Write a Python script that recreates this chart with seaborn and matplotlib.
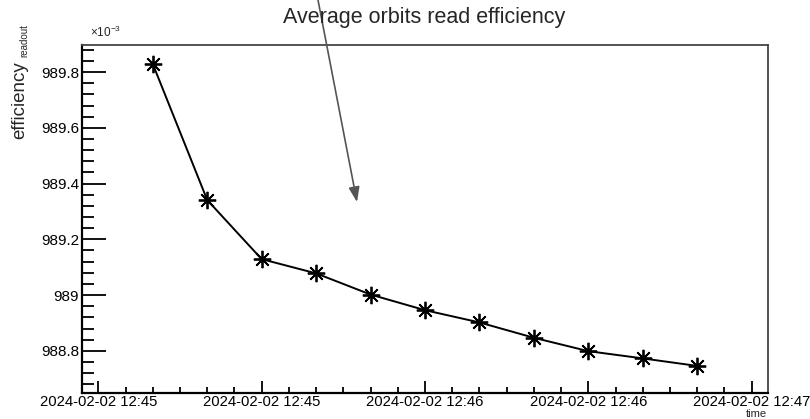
import matplotlib
matplotlib.use("Agg")
import matplotlib.pyplot as plt
import matplotlib.dates as mdates
from matplotlib.ticker import MultipleLocator, FuncFormatter
from matplotlib.patches import FancyArrowPatch
import seaborn as sns
import pandas as pd

# ---- data ----
times = ["2024-02-02 12:45:10", "2024-02-02 12:45:20", "2024-02-02 12:45:30",
         "2024-02-02 12:45:40", "2024-02-02 12:45:50", "2024-02-02 12:46:00",
         "2024-02-02 12:46:10", "2024-02-02 12:46:20", "2024-02-02 12:46:30",
         "2024-02-02 12:46:40", "2024-02-02 12:46:50"]
# efficiency in units of 1e-3
efficiency = [989.829, 989.341, 989.129, 989.078, 989.002, 988.946,
              988.902, 988.847, 988.799, 988.773, 988.746]
title = "Average orbits read efficiency"
xlabel = "time"
ylabel_main = "efficiency"
ylabel_sub = "readout"
xlim = ("2024-02-02 12:44:57", "2024-02-02 12:47:03")
ylim = (988.65, 989.897)

df = pd.DataFrame({"time": pd.to_datetime(times), "eff": efficiency})

sns.set_theme(style="white")
plt.rcParams["font.family"] = ["Liberation Sans", "DejaVu Sans"]
plt.rcParams["mathtext.fontset"] = "custom"
plt.rcParams["mathtext.rm"] = "Liberation Sans"
plt.rcParams["mathtext.it"] = "Liberation Sans:italic"

fig = plt.figure(figsize=(8.10, 4.19), dpi=100)
ax = fig.add_axes([82 / 810, 1 - 392.7 / 419, (768 - 82) / 810, (392.7 - 45) / 419])

sns.lineplot(data=df, x="time", y="eff", ax=ax, color="black", linewidth=1.4,
             marker=(8, 2, 0), markersize=12.5, markeredgecolor="black",
             markerfacecolor="black", markeredgewidth=1.3)

ax.set_xlim(pd.Timestamp(xlim[0]), pd.Timestamp(xlim[1]))
ax.set_ylim(*ylim)

ax.xaxis.set_major_locator(mdates.SecondLocator(bysecond=[0, 30]))
ax.xaxis.set_minor_locator(mdates.SecondLocator(bysecond=list(range(0, 60, 5))))
ax.xaxis.set_major_formatter(mdates.DateFormatter("%Y-%m-%d %H:%M"))
ax.yaxis.set_major_locator(MultipleLocator(0.2))
ax.yaxis.set_minor_locator(MultipleLocator(0.04))
ax.yaxis.set_major_formatter(FuncFormatter(lambda v, p: "%g" % round(v, 3)))

ax.tick_params(axis="both", which="both", direction="in", colors="black",
               left=True, bottom=True, top=False, right=False)
ax.tick_params(axis="y", which="major", length=17.5, width=1.3, pad=2, labelsize=11)
ax.tick_params(axis="y", which="minor", length=8.8, width=1.3)
ax.tick_params(axis="x", which="major", length=8.8, width=1.3, pad=2, labelsize=10.7)
ax.tick_params(axis="x", which="minor", length=4.6, width=1.3)

for s in ["left", "bottom"]:
    ax.spines[s].set_color("black")
    ax.spines[s].set_linewidth(1.6)
for s in ["top", "right"]:
    ax.spines[s].set_color("#444444")
    ax.spines[s].set_linewidth(1.3)

ax.set_xlabel("")
ax.set_ylabel("")

fig.text(424.5 / 810, 1 - 17 / 419, title, ha="center", va="center", fontsize=15.5)
fig.text(767 / 810, 0.5 / 419, xlabel, ha="right", va="bottom", fontsize=8)
fig.text(20 / 810, 1 - 139 / 419, ylabel_main, ha="center", va="bottom",
         rotation=90, fontsize=13.5)
fig.text(24.5 / 810, 1 - 57 / 419, ylabel_sub, ha="center", va="bottom",
         rotation=90, fontsize=7)
fig.text(90 / 810, 1 - 32 / 419, "\u00d710$^{-3}$", ha="left", va="center", fontsize=8.5)

arrow = FancyArrowPatch((318 / 810, 1.0), (357 / 810, 1 - 202 / 419),
                        transform=fig.transFigure, arrowstyle="-|>,head_length=9,head_width=3.3",
                        mutation_scale=1, color="#555555", linewidth=1.2,
                        shrinkA=0, shrinkB=0)
fig.add_artist(arrow)

fig.savefig("out.png", dpi=100)
